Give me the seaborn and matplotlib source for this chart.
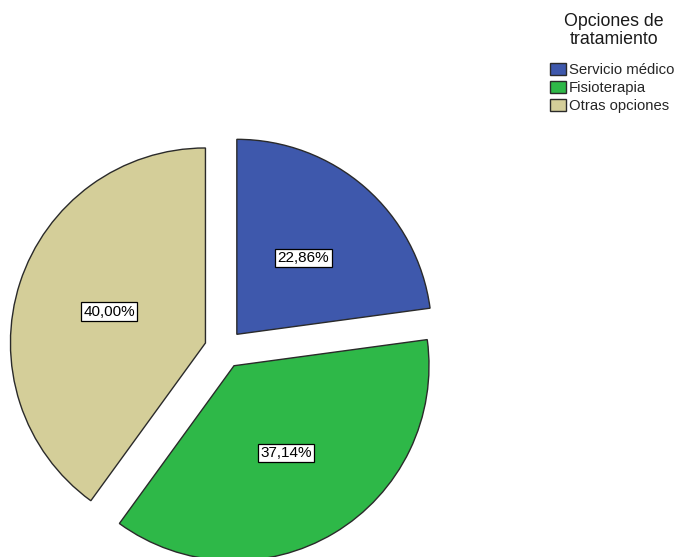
import matplotlib
matplotlib.use("Agg")
import matplotlib.pyplot as plt
import seaborn as sns

categories = ["Servicio médico", "Fisioterapia", "Otras opciones"]
percentages = [22.86, 37.14, 40.00]
colors = ["#3E58AC", "#2EB848", "#D4CE99"]

sns.set_theme(style="white")
plt.rcParams["font.family"] = ["Liberation Sans", "DejaVu Sans"]

fig = plt.figure(figsize=(6.78, 5.57), dpi=100)
fig.patch.set_facecolor("white")

# pie centre at (224, 349) px, radius 195 px
px_per_unit = 195.0
half = 1.2
w = 2 * half * px_per_unit / 678
h = 2 * half * px_per_unit / 557
left = (224 - half * px_per_unit) / 678
bottom = (557 - 349 - half * px_per_unit) / 557
ax = fig.add_axes([left, bottom, w, h])

palette = sns.color_palette(colors)


def fmt(p):
    return f"{p:.2f}%".replace(".", ",")


wedges, texts, autotexts = ax.pie(
    percentages,
    colors=palette,
    startangle=90,
    counterclock=False,
    explode=[0.1, 0.1, 0.1],
    autopct=fmt,
    pctdistance=0.52,
    radius=1.0,
    wedgeprops=dict(edgecolor="#2a2a2a", linewidth=1.0),
    textprops=dict(fontsize=11, color="black"),
)
ax.set_xlim(-half, half)
ax.set_ylim(-half, half)
ax.set_aspect("equal")
ax.axis("off")

for t in autotexts:
    t.set_bbox(dict(facecolor="white", edgecolor="black", linewidth=0.9, pad=1.6))

# legend title drawn separately to control the gap above the entries
fig.text(614 / 678, 1 - 13 / 557, "Opciones de\ntratamiento",
         ha="center", va="top", fontsize=12.8, linespacing=1.05,
         color="#1a1a1a")

leg = fig.legend(
    wedges,
    categories,
    loc="upper left",
    bbox_to_anchor=(550 / 678, 1 - 63 / 557),
    frameon=False,
    fontsize=10.7,
    handlelength=1.07,
    handleheight=0.8,
    handletextpad=0.2,
    labelspacing=0.28,
    borderaxespad=0.0,
    borderpad=0.0,
)
for p in leg.get_patches():
    p.set_edgecolor("#2a2a2a")

fig.savefig("out.png", dpi=100, facecolor="white")
